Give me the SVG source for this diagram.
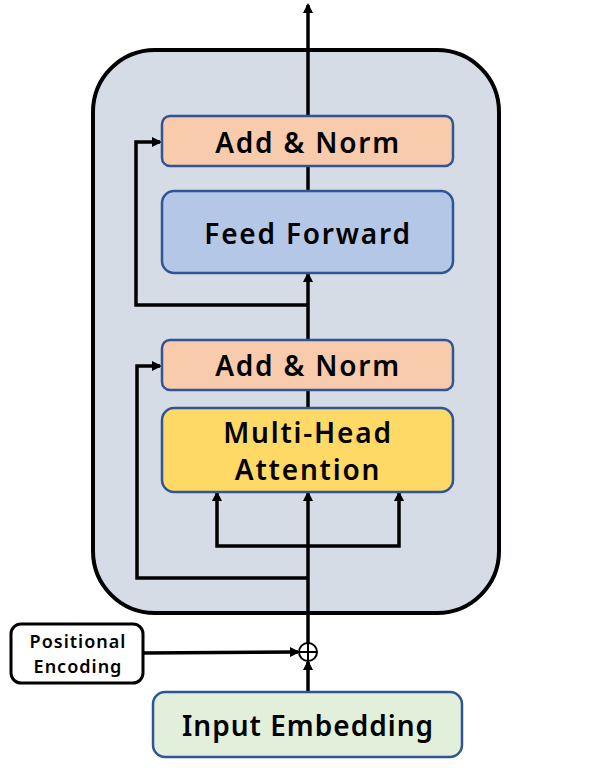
<svg xmlns="http://www.w3.org/2000/svg" width="613" height="768" viewBox="0 0 613 768">
<style>
.box{stroke:#2f5597;stroke-width:2.5}
.t{font-family:"Noto Sans","Open Sans",sans-serif;font-weight:600;fill:#000;text-anchor:middle;dominant-baseline:central}
.b{font-size:28px;letter-spacing:1.8px}
.c{fill:none;stroke:#000;stroke-width:3.5}
</style>
<defs>
<marker id="ah" markerWidth="10" markerHeight="10" refX="8" refY="5" orient="auto" markerUnits="userSpaceOnUse"><path d="M0,0 L10,5 L0,10 z" fill="#000"/></marker>
</defs>
<g id="encoder"><rect x="93" y="50" width="406" height="563" rx="62" fill="#d6dce5" stroke="#000" stroke-width="4"/></g>
<g id="connectors">
<line class="c" x1="308" y1="692" x2="308" y2="662" marker-end="url(#ah)"/>
<line class="c" x1="143" y1="653" x2="298" y2="652" marker-end="url(#ah)"/>
<line class="c" x1="308" y1="643" x2="308" y2="493" marker-end="url(#ah)"/>
<polyline class="c" points="308,578 137,578 137,366 160,366" marker-end="url(#ah)"/>
<polyline class="c" points="308,546 217,546 217,493" marker-end="url(#ah)"/>
<polyline class="c" points="308,546 399,546 399,493" marker-end="url(#ah)"/>
<line class="c" x1="308" y1="408" x2="308" y2="390"/>
<line class="c" x1="308" y1="340" x2="308" y2="274" marker-end="url(#ah)"/>
<polyline class="c" points="308,305 136,305 136,142 160,142" marker-end="url(#ah)"/>
<line class="c" x1="308" y1="191" x2="308" y2="166"/>
<line class="c" x1="308" y1="116" x2="308" y2="5" marker-end="url(#ah)"/>
</g>
<g id="add"><circle cx="308" cy="652" r="9" fill="#fff" stroke="#000" stroke-width="2"/><line x1="299" y1="652" x2="317" y2="652" stroke="#000" stroke-width="2"/><line x1="308" y1="643" x2="308" y2="661" stroke="#000" stroke-width="2"/></g>
<g id="addnorm2"><rect class="box" x="162" y="116" width="291" height="50" rx="8" fill="#f8cbad"/><text class="t b" x="308" y="142">Add &amp; Norm</text></g>
<g id="ff"><rect class="box" x="162" y="191" width="291" height="82" rx="12" fill="#b4c7e7"/><text class="t b" x="308" y="233">Feed Forward</text></g>
<g id="addnorm1"><rect class="box" x="162" y="340" width="291" height="50" rx="8" fill="#f8cbad"/><text class="t b" x="308" y="365">Add &amp; Norm</text></g>
<g id="mha"><rect class="box" x="162" y="408" width="291" height="84" rx="12" fill="#ffd966"/><text class="t b" x="308" y="432">Multi-Head</text><text class="t b" x="308" y="469">Attention</text></g>
<g id="pe"><rect x="11" y="624" width="132" height="59" rx="10" fill="#fff" stroke="#000" stroke-width="3"/><text class="t" x="78" y="641" font-size="18" letter-spacing="1">Positional</text><text class="t" x="78" y="666" font-size="18" letter-spacing="1">Encoding</text></g>
<g id="ie"><rect class="box" x="153" y="692" width="309" height="65" rx="12" fill="#e2efda"/><text class="t" x="308" y="725" font-size="28" letter-spacing="1">Input Embedding</text></g>
</svg>
